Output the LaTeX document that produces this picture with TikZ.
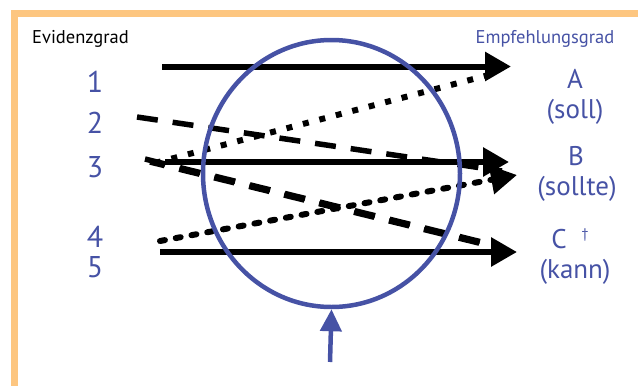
\documentclass[tikz,border=0pt]{standalone}
\usepackage{fontspec}
\setmainfont{PT Sans}
\usetikzlibrary{arrows.meta,shapes.geometric}
\definecolor{frameor}{RGB}{253,198,128}
\definecolor{evblue}{RGB}{70,82,165}
\tikzset{
  numlbl/.style={text=evblue,font=\fontsize{30}{30}\selectfont,anchor=base,inner sep=0pt},
  gradelbl/.style={text=evblue,font=\fontsize{27}{27}\selectfont,anchor=base,inner sep=0pt},
  headlbl/.style={font=\fontsize{18.5}{18.5}\selectfont,anchor=base,inner sep=0pt},
  solidarrow/.style={line width=6pt,-{Triangle[length=26pt,width=28pt]}},
  longdash/.style={line width=5.5pt,dash pattern=on 21pt off 15pt},
  squaredots/.style={line width=6pt,dash pattern=on 6pt off 11pt},
  rounddots/.style={line width=6pt,line cap=round,dash pattern=on 5pt off 11pt,-{Triangle[length=26pt,width=28pt]}},
}
\begin{document}
\begin{tikzpicture}[x=1pt,y=-1pt]
\useasboundingbox (0,0) rectangle (638,386);
% frame
\fill[frameor] (11,10) rectangle (638,17);
\fill[frameor] (11,10) rectangle (18,386);
% headings
\node[headlbl,anchor=base west] (hev) at (32,43) {Evidenzgrad};
\node[headlbl,anchor=base,text=evblue] (hem) at (545,43) {Empfehlungsgrad};
% evidence numbers
\node[numlbl] (n1) at (95,92) {1};
\node[numlbl] (n2) at (95,133) {2};
\node[numlbl] (n3) at (95,177) {3};
\node[numlbl] (n4) at (95,247) {4};
\node[numlbl] (n5) at (95,277) {5};
% grades
\node[gradelbl] (gA) at (575,88) {A};
\node[gradelbl] (gAs) at (575,118) {(soll)};
\node[gradelbl] (gB) at (576,165) {B};
\node[gradelbl] (gBs) at (577,195) {(sollte)};
\node[gradelbl] (gC) at (559,248) {C};
\node[text=evblue,font=\fontsize{14}{14}\selectfont,anchor=base,inner sep=0pt] (dag) at (585,238) {\dag};
\node[gradelbl] (gCs) at (575,278) {(kann)};
% line ends
\coordinate (s1) at (162,66.5);
\coordinate (tA) at (511,66.5);
\coordinate (s2) at (137,117);
\coordinate (e2) at (502,171);
\coordinate (s3) at (165,162);
\coordinate (tB) at (509,162);
\coordinate (s3d) at (155,163);
\coordinate (e3d) at (500,72);
\coordinate (s3c) at (145,159);
\coordinate (e3c) at (498,246);
\coordinate (s3c2) at (150,162);
\coordinate (e3c2) at (495,247);
\coordinate (s4) at (160,241);
\coordinate (tB2) at (517,175);
\coordinate (s5) at (160,252);
\coordinate (tC) at (517,252);
% connectors
\draw[squaredots] (s3d) -- (e3d);
\draw[longdash] (s2) -- (e2);
\draw[longdash] (s3c) -- (e3c);
\draw[longdash,dash phase=6pt] (s3c2) -- (e3c2);
\draw[rounddots] (s4) -- (tB2);
\draw[solidarrow] (s1) -- (tA);
\draw[solidarrow] (s3) -- (tB);
\draw[solidarrow] (s5) -- (tC);
% circle and arrow
\node[draw=evblue,line width=4.5pt,ellipse,minimum width=257pt,minimum height=267pt,inner sep=0pt] (circ) at (331.5,173.5) {};
\coordinate (abase) at (330,362);
\draw[evblue,line width=4.5pt,-{Triangle[length=22pt,width=21pt]}] (abase) -- (circ.south);
\end{tikzpicture}
\end{document}
